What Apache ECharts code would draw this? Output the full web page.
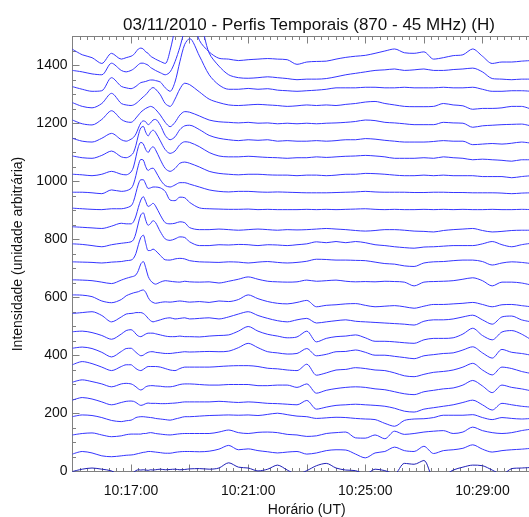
<!DOCTYPE html>
<html>
<head>
<meta charset="utf-8">
<title>Perfis Temporais</title>
<script src="https://cdn.jsdelivr.net/npm/echarts@6/dist/echarts.min.js"></script>
<style>
html, body { margin: 0; padding: 0; background: #fff; }
#chart { width: 529px; height: 517px; }
</style>
</head>
<body>
<div id="chart"></div>
<script>
/* =========================
 * Dados
 * ========================= */
// tempo em segundos a partir de 10:15:00
var tempos = [0, 20, 40, 60, 80, 100,
    110, 120, 125, 130, 135, 140, 145, 150, 155, 160, 165, 170, 180, 190, 200, 210, 220, 230, 240,
    260, 280, 300, 320, 340, 360, 380, 400, 420, 440, 460, 480, 500, 520, 540, 560, 580, 600, 620, 640,
    660, 680, 700, 720, 740, 760, 780, 800, 820, 840, 860, 880, 900, 920, 940];

// nivel de base de cada perfil (de baixo para cima)
var bases = [0, 72, 131, 191, 250, 310, 370, 429, 489, 548, 608, 668, 727,
    787, 846, 906, 966, 1025, 1085, 1144, 1204, 1264, 1323, 1383, 1442];

// desvio de cada perfil em relacao a sua base
var perfil00 = [0, 8, 12, 8, 2, -15,
    -15, -10, -3, 3, 6, 5, 6, 5, 4, 6, 5, 6, 8, 6, 7, 8, 6, 7, 9,
    10, 8, 12, 30, 15, 12, 2, 8, 22, 5, -10, 3, 20, 28, 12, 5, 3, -10, 8, 3, -8, 28, 25, 38, -20, -15, 5, 15, 22, 20, 5, -10, 10, 12, 14];
var perfil01 = [-12, -3, -8, -18, -21, -18,
    -16, -15, -14, -12, -10, -8, -6, -5, -3, -3, -4, -5, -7, -9, -9, -6, -4, -3, -3,
    -4, -2, 5, 18, 3, 6, 0, -4, -8, -5, -3, -12, -8, 0, 3, 2, -12, -25, -8, -3, 12, 0, -3, 15, -10, 0, 3, 8, 20, 5, -5, 0, 3, 5, 8];
var perfil02 = [-5, 0, 2, -5, -11, -8,
    -4, -2, -2, -2, -2, -2, 0, 0, 2, 3, 2, 0, -2, -4, -5, -3, -1, 0, 0,
    0, 0, 5, 12, 3, 0, 4, 5, 3, -3, -5, -10, -8, 0, 3, 5, -15, -16, -5, -18, 8, -3, 0, 5, 8, 10, 0, 5, 22, 10, 3, 0, 3, 10, 15];
var perfil03 = [-2, 4, 2, -5, -15, -19,
    -16, -14, -10, -5, -3, -2, -2, -3, -4, -5, -6, -8, -10, -12, -14, -10, -6, -2, -2,
    0, 2, 3, 4, 3, 4, 2, 6, 10, 5, 0, -2, -8, -6, -4, -5, -8, -10, -12, -25, -35, -15, -10, -9, -5, 3, 3, 3, 5, -5, -12, -5, -8, -10, -8];
var perfil04 = [-4, 5, 0, -10, -20, -12,
    -8, -7, -8, -12, -18, -22, -20, -16, -14, -15, -15, -15, -16, -16, -15, -14, -12, -10, -10,
    -10, -10, -8, -10, -12, -10, -12, -15, -16, -18, -20, -5, -35, -28, -22, -20, -18, -20, -22, -25, -32, -42, -45, -35, -30, -25, -20, -12, -4, -20, -38, -15, -20, -25, -28];
var perfil05 = [-2, 6, 0, -8, -18, -8,
    -6, -8, -12, -18, -25, -29, -25, -18, -15, -14, -14, -15, -16, -18, -18, -15, -10, -8, -8,
    -10, -12, -12, -10, -10, -10, -14, -14, -12, -12, -20, -8, -40, -30, -24, -20, -18, -20, -25, -28, -35, -42, -45, -35, -30, -25, -22, -12, 4, -15, -38, -12, -20, -25, -32];
var perfil06 = [-2, 9, 2, -10, -22, -8,
    -2, -2, -8, -15, -20, -22, -18, -12, -8, -8, -8, -8, -10, -15, -20, -22, -15, -10, -10,
    -10, -10, -8, -6, -5, -5, -8, -14, -16, -20, -22, 0, -38, -30, -20, -18, -12, -15, -20, -22, -30, -40, -43, -35, -28, -25, -20, -10, 3, -20, -37, -10, -15, -25, -32];
var perfil07 = [-4, 0, -5, -18, -34, -15,
    -5, -4, -10, -18, -25, -30, -28, -22, -18, -16, -16, -18, -20, -22, -22, -20, -18, -16, -17,
    -16, -15, -16, -14, -2, 13, -2, -16, -20, -24, -22, -5, -30, -25, -16, -15, -10, -18, -28, -28, -32, -36, -40, -30, -26, -22, -20, -10, 1, -20, -38, -8, -18, -22, -28];
var perfil08 = [-7, -5, -10, -20, -33, -15,
    -3, 0, -5, -15, -22, -24, -20, -15, -12, -12, -12, -14, -18, -22, -24, -24, -22, -24, -24,
    -25, -22, -20, -18, -5, 11, -5, -16, -22, -28, -25, -5, -42, -30, -24, -22, -18, -28, -40, -40, -42, -45, -47, -35, -30, -30, -28, -15, 5, -20, -35, -8, -3, -15, -35];
var perfil09 = [-3, 0, 3, -10, -32, -15,
    -5, -3, -2, 0, 0, 0, -3, -10, -20, -28, -32, -30, -25, -20, -18, -22, -20, -18, -22,
    -20, -18, -22, -15, -5, 3, -10, -20, -28, -32, -25, -20, -36, -32, -28, -25, -30, -32, -34, -36, -38, -40, -43, -30, -25, -25, -22, -15, -9, -25, -40, -15, -12, -25, -32];
var perfil10 = [1, 0, -5, -20, -26, -15,
    -2, 5, 8, 10, 12, 16, 18, 10, -8, -20, -25, -28, -25, -23, -24, -22, -20, -22, -24,
    -22, -25, -20, -22, -15, 1, -12, -22, -28, -30, -25, -18, -40, -35, -33, -30, -29, -35, -40, -38, -36, -40, -45, -38, -32, -32, -30, -28, -25, -32, -40, -33, -32, -36, -40];
var perfil11 = [-7, -8, -10, -15, -20, -8,
    -2, 3, 5, 10, 25, 48, 56, 35, 5, -10, -18, -22, -15, -10, -12, -14, -15, -12, -14,
    -15, -14, -18, -12, -5, 3, -5, -12, -14, -15, -14, -8, -12, -10, -8, -12, -14, -13, -14, -12, -13, -15, -28, -15, -13, -12, -10, -5, 0, -10, -28, -15, -15, -18, -25];
var perfil12 = [-4, -5, -6, -8, -5, -3,
    0, 2, 8, 25, 55, 80, 88, 60, 35, 35, 40, 35, 18, 3, 2, 6, 8, 6, 0,
    -4, -5, -6, -4, -5, -8, -5, -3, -6, -8, -6, -2, 5, 4, 2, 2, 1, 0, -5, -10, -12, -18, -20, -8, -4, -3, 0, 2, 2, -3, -15, -8, -4, -6, -10];
var perfil13 = [-2, -4, -8, -12, -5, 0,
    2, 5, 12, 35, 70, 98, 105, 80, 62, 68, 78, 72, 40, 15, 10, 15, 22, 20, 5,
    -8, -8, -5, -6, -4, -5, -8, -5, -6, -8, -5, -2, 5, 2, 6, 2, 6, 2, -5, -8, -12, -15, -17, -13, -12, -10, -8, -8, -8, -2, 6, -5, -12, -5, 0];
var perfil14 = [-2, -4, -6, -8, 0, 10,
    8, 8, 15, 35, 65, 90, 102, 85, 68, 72, 79, 70, 38, 12, 8, 10, 15, 12, -5,
    -12, -12, -10, -12, -14, -12, -10, -12, -14, -12, -13, -12, -10, -8, -10, -12, -15, -17, -15, -12, -12, -14, -17, -18, -20, -15, -12, -10, -8, -15, -20, -18, -15, -14, -14];
var perfil15 = [2, 0, -2, -3, 0, 0,
    3, 10, 25, 55, 85, 100, 100, 85, 70, 72, 75, 75, 72, 60, 30, 28, 40, 38, 22,
    3, 0, -1, -2, -2, -1, -3, -2, -3, -3, -3, -2, -3, -2, -3, -2, -1, 0, -2, -3, -2, -3, -3, -2, -3, -2, -3, -2, -3, -3, -2, -3, -3, -2, -3];
var perfil16 = [-3, -3, -5, -8, 5, 0,
    2, 10, 25, 55, 90, 110, 108, 85, 72, 78, 80, 70, 40, 20, 15, 22, 30, 30, 25,
    15, 5, 0, -2, 0, 0, -2, -3, -2, -3, -4, -5, -5, -5, -4, -3, -2, 0, -2, -3, -3, -3, -4, -4, -3, -3, -4, -4, -5, -5, -5, -6, -8, -6, -5];
var perfil17 = [0, -2, -5, 0, 10, 0,
    -2, 8, 25, 60, 95, 110, 105, 85, 75, 88, 95, 85, 50, 20, 10, 20, 38, 42, 38,
    25, 10, 3, 0, -2, 0, 0, -2, -3, -3, -5, -3, -3, -5, -3, 0, 0, 3, 2, 0, -3, -5, -5, -3, -5, -3, -5, -5, -5, -8, -8, -8, -12, -8, -5];
var perfil18 = [3, -3, -5, 5, 20, 0,
    -3, 5, 15, 40, 75, 100, 105, 85, 72, 85, 92, 85, 55, 25, 12, 20, 42, 52, 50,
    35, 15, 3, 0, 0, 2, 0, -2, -3, -5, -3, -3, 0, -2, 0, 2, 3, 5, 3, 0, -5, -5, -5, -3, -5, 0, -3, -5, -10, -8, -10, -12, -15, -10, -10];
var perfil19 = [5, -5, -8, 5, 22, 0,
    -5, 2, 8, 20, 40, 58, 65, 62, 52, 58, 68, 70, 50, 15, 0, 10, 35, 48, 50,
    35, 15, 5, 0, -3, 0, -2, 0, -5, -3, -5, -5, -3, -5, -3, 0, 0, 4, 2, -2, -5, -8, -8, -8, -6, -3, -5, -5, -17, -15, -13, -15, -12, -8, -12];
var perfil20 = [8, -5, -9, 10, 40, 10,
    2, 0, 5, 15, 25, 35, 42, 48, 52, 55, 52, 45, 25, 0, -15, 0, 25, 37, 35,
    22, 8, 2, 0, -2, 0, -3, -2, -5, -3, -5, -3, -5, -3, -2, 0, 3, 8, 6, 0, -2, -5, -8, -8, -8, 0, -2, -3, -17, -12, -10, -8, -7, -6, -13];
var perfil21 = [8, -5, -10, 5, 40, 5,
    0, -2, 0, 5, 12, 20, 28, 35, 45, 55, 60, 55, 35, 5, -5, 20, 55, 75, 70,
    45, 20, 8, 0, -2, 0, 2, 0, -2, -5, -3, 0, -2, 0, -2, 2, 5, 10, 12, 5, 0, -5, -6, -6, -5, 5, 0, -3, -15, -12, -12, -10, -5, -5, -15];
var perfil22 = [4, -5, -12, -10, 35, 5,
    0, -3, 0, 5, 12, 18, 20, 22, 25, 27, 27, 25, 20, 0, -12, 20, 90, 150, 170,
    110, 45, 10, -5, -5, -2, -5, -3, -8, -10, -12, -10, -8, -5, 0, 0, 0, 2, 2, 0, 0, 2, 0, 0, 0, 2, 0, 0, 2, -5, -12, -12, -10, -10, -12];
var perfil23 = [0, -5, -12, -15, 25, 0,
    -5, 0, 5, 12, 20, 25, 25, 22, 18, 10, 5, 0, -8, -15, -5, 30, 80, 140, 180,
    170, 60, 15, -15, -25, -27, -25, -22, -25, -28, -32, -30, -30, -28, -22, -15, -10, -5, 0, 2, 5, 0, 2, 5, 0, 0, 3, 5, 8, -5, -28, -30, -32, -30, -30];
var perfil24 = [14, -5, -15, -35, 0, -20,
    -15, -10, -5, 5, 15, 18, 15, 5, 0, -10, -15, -20, -28, -35, 10, 90, 200, 230, 150,
    45, 5, -17, -20, -25, -22, -20, -18, -20, -22, -38, -30, -28, -27, -20, -14, -10, -7, 0, 8, 15, 2, 0, 5, -20, -15, -8, -5, 15, -10, -35, -30, -30, -27, -25];

var perfis = [perfil00, perfil01, perfil02, perfil03, perfil04, perfil05, perfil06, perfil07,
    perfil08, perfil09, perfil10, perfil11, perfil12, perfil13, perfil14, perfil15, perfil16,
    perfil17, perfil18, perfil19, perfil20, perfil21, perfil22, perfil23, perfil24];

// rotulos dos eixos
var rotulosX = ['10:17:00', '10:21:00', '10:25:00', '10:29:00'];
var posRotulosX = [120, 360, 600, 840];
var rotulosY = [0, 200, 400, 600, 800, 1000, 1200, 1400];

/* =========================
 * Grafico
 * ========================= */
var fonte = '"Liberation Sans", Arial, Helvetica, sans-serif';
var corEixo = '#808080';
var chart = echarts.init(document.getElementById('chart'), null, { renderer: 'canvas' });

function eixoX(pos, comRotulo) {
    return {
        type: 'value',
        position: pos,
        min: 0,
        max: 960,
        interval: 120,
        axisLine: { show: true, onZero: false, lineStyle: { color: corEixo, width: 1 } },
        axisTick: { show: true, inside: true, length: 7, lineStyle: { color: corEixo } },
        minorTick: { show: true, splitNumber: 8, length: 3.5, lineStyle: { color: corEixo } },
        splitLine: { show: false },
        minorSplitLine: { show: false },
        axisLabel: {
            show: comRotulo,
            margin: 13,
            fontSize: 14,
            color: '#111',
            fontFamily: fonte,
            formatter: function (v) {
                var i = posRotulosX.indexOf(v);
                return i >= 0 ? rotulosX[i] : '';
            }
        },
        name: comRotulo ? 'Horário (UT)' : '',
        nameLocation: 'middle',
        nameGap: 30,
        nameTextStyle: { fontSize: 14, color: '#111', fontFamily: fonte }
    };
}

var series = perfis.map(function (desvio, k) {
    return {
        type: 'line',
        data: tempos.map(function (t, i) { return [t, bases[k] + desvio[i]]; }),
        symbol: 'none',
        showSymbol: false,
        smooth: 0.3,
        clip: true,
        silent: true,
        lineStyle: { color: k === 0 ? '#1f1fb8' : '#3535ff', width: 1 }
    };
});

var option = {
    animation: false,
    backgroundColor: '#fff',
    title: {
        text: '03/11/2010 - Perfis Temporais (870 - 45 MHz) (H)',
        left: 118,
        top: 12,
        textStyle: { fontSize: 17, fontWeight: 'normal', color: '#111', fontFamily: fonte }
    },
    grid: { left: 72.5, right: -12, top: 36.5, bottom: 45.5, containLabel: false, outerBoundsMode: 'none' },
    xAxis: [eixoX('bottom', true), eixoX('top', false)],
    yAxis: [{
        type: 'value',
        position: 'left',
        min: 0,
        max: 1500,
        interval: 200,
        axisLine: { show: true, onZero: false, lineStyle: { color: corEixo, width: 1 } },
        axisTick: { show: true, inside: true, length: 7, lineStyle: { color: corEixo } },
        splitLine: { show: false },
        axisLabel: {
            margin: 5,
            fontSize: 14,
            color: '#111',
            fontFamily: fonte,
            formatter: function (v) { return rotulosY.indexOf(v) >= 0 ? String(v) : ''; }
        },
        name: 'Intensidade (unidade arbitrária)',
        nameLocation: 'middle',
        nameGap: 47,
        nameTextStyle: { fontSize: 14, color: '#111', fontFamily: fonte }
    }, {
        type: 'value',
        position: 'left',
        min: 0,
        max: 1500,
        interval: 50,
        axisLine: { show: false },
        axisTick: { show: true, inside: true, length: 3.5, lineStyle: { color: corEixo } },
        axisLabel: { show: false },
        splitLine: { show: false }
    }],
    series: series
};

chart.setOption(option);
</script>
</body>
</html>
